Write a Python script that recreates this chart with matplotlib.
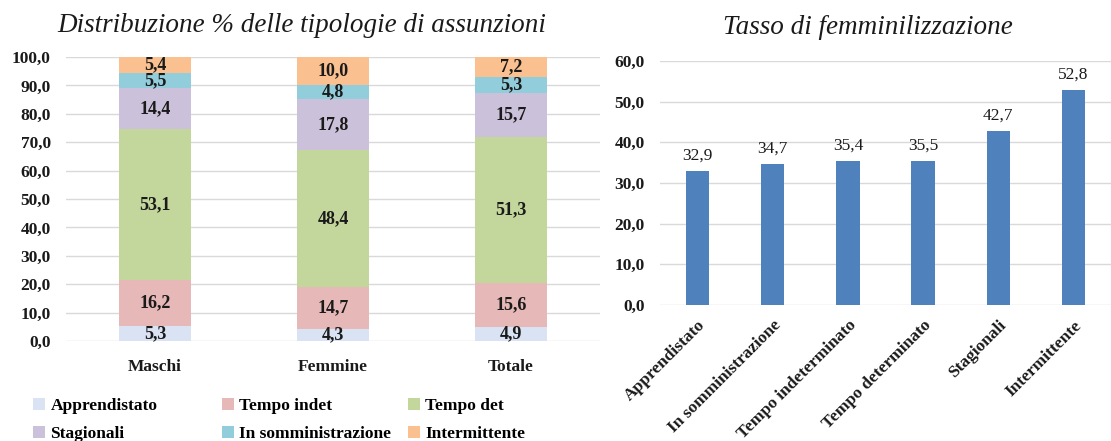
import matplotlib
matplotlib.use("Agg")
import matplotlib.pyplot as plt
import numpy as np

plt.rcParams['font.family'] = ['Liberation Serif', 'DejaVu Serif']

groups = ["Maschi", "Femmine", "Totale"]
series = ["Apprendistato", "Tempo indet", "Tempo det", "Stagionali", "In somministrazione", "Intermittente"]
apprendistato = [5.3, 4.3, 4.9]
tempo_indet = [16.2, 14.7, 15.6]
tempo_det = [53.1, 48.4, 51.3]
stagionali = [14.4, 17.8, 15.7]
somministrazione = [5.5, 4.8, 5.3]
intermittente = [5.4, 10.0, 7.2]
colors = ["#dae3f3", "#e6b9b8", "#c3d69b", "#ccc1da", "#92cddc", "#fac090"]

fem_cats = ["Apprendistato", "In somministrazione", "Tempo indeterminato", "Tempo determinato", "Stagionali", "Intermittente"]
fem_vals = [32.9, 34.7, 35.4, 35.5, 42.7, 52.8]

def fmt(v):
    return f"{v:.1f}".replace(".", ",")

fig = plt.figure(figsize=(11.11, 4.41), dpi=100)
W, H = 1111, 441
TXT = '#1a1a1a'

# Left chart
ax1 = fig.add_axes([66/W, 1-341/H, (600-66)/W, (341-57)/H])
data = [apprendistato, tempo_indet, tempo_det, stagionali, somministrazione, intermittente]
x = np.arange(len(groups))
bottom = np.zeros(len(groups))
handles = []
for name, vals, c in zip(series, data, colors):
    h = ax1.bar(x, vals, 0.4, bottom=bottom, color=c, label=name, zorder=3)
    handles.append(h)
    for xi, b, v in zip(x, bottom, vals):
        ax1.text(xi, b + v/2, fmt(v), ha='center', va='center', fontsize=13,
                 fontweight='bold', color=TXT, zorder=4)
    bottom += np.array(vals)
ax1.set_xlim(-0.5, 2.5)
ax1.set_ylim(0, 100)
ax1.set_yticks(np.arange(0, 101, 10))
ax1.set_yticklabels([fmt(v) for v in np.arange(0, 101, 10)])
ax1.set_xticks(x)
ax1.set_xticklabels(groups)
for s in ax1.spines.values():
    s.set_visible(False)
ax1.grid(axis='y', color='#d9d9d9', linewidth=1, zorder=0)
ax1.tick_params(axis='y', length=0, labelsize=12.5, colors=TXT, pad=11)
ax1.tick_params(axis='x', length=0, labelsize=12.5, colors=TXT, pad=13)
for lab in ax1.get_xticklabels() + ax1.get_yticklabels():
    lab.set_fontweight('bold')
fig.text(302/W, 1-25/H, "Distribuzione % delle tipologie di assunzioni", fontstyle='italic',
         fontsize=19.5, ha='center', va='center', color=TXT)

# Legend: three columns, entries arranged row by row
col_x = [33, 222, 408]
for ci in range(3):
    hs = [handles[ci], handles[ci + 3]]
    ls = [series[ci], series[ci + 3]]
    fig.legend(hs, ls, loc='center left', bbox_to_anchor=(col_x[ci]/W, 1-420/H),
               frameon=False, borderpad=0, borderaxespad=0, handlelength=0.7, handleheight=0.7,
               handletextpad=0.3, labelspacing=0.7,
               prop={'weight': 'bold', 'size': 12.5})

# Right chart
ax2 = fig.add_axes([660/W, 1-305/H, (1111-660)/W, (305-61)/H])
x2 = np.arange(len(fem_cats))
ax2.bar(x2, fem_vals, 0.31, color="#4f81bd", zorder=3)
for xi, v in zip(x2, fem_vals):
    ax2.text(xi, v + 1.8, fmt(v), ha='center', va='bottom', fontsize=12.5, color=TXT)
ax2.set_xlim(-0.5, 5.5)
ax2.set_ylim(0, 60)
ax2.set_yticks(np.arange(0, 61, 10))
ax2.set_yticklabels([fmt(v) for v in np.arange(0, 61, 10)])
ax2.set_xticks(x2)
ax2.set_xticklabels(fem_cats, rotation=45, ha='right', rotation_mode='anchor')
for s in ax2.spines.values():
    s.set_visible(False)
ax2.grid(axis='y', color='#d9d9d9', linewidth=1, zorder=0)
ax2.tick_params(axis='y', length=0, labelsize=12.5, colors=TXT, pad=11)
ax2.tick_params(axis='x', length=0, labelsize=12.5, colors=TXT, pad=9)
for lab in ax2.get_xticklabels() + ax2.get_yticklabels():
    lab.set_fontweight('bold')
fig.text(868/W, 1-27/H, "Tasso di femminilizzazione", fontstyle='italic', fontsize=19.5,
         ha='center', va='center', color=TXT)

fig.savefig("out.png", dpi=100)
